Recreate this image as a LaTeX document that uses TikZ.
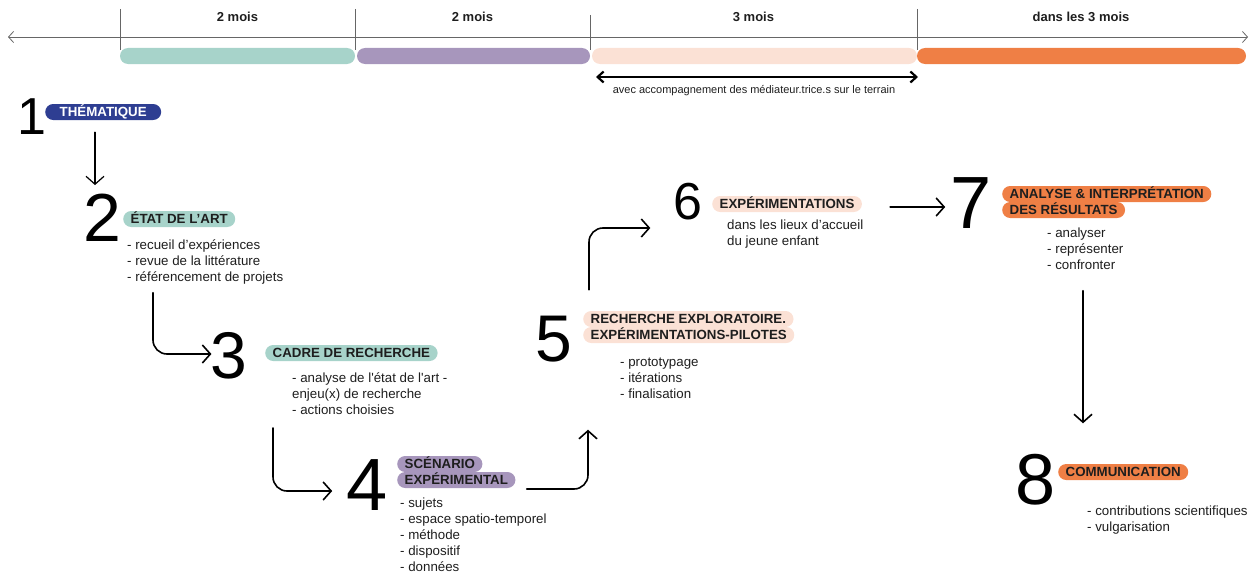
\documentclass[tikz,border=0pt]{standalone}
\usepackage{fontspec}
\setmainfont{Liberation Sans}
\usetikzlibrary{arrows.meta}

\definecolor{thema}{RGB}{46,62,146}
\definecolor{etat}{RGB}{167,211,202}
\definecolor{scenario}{RGB}{167,150,188}
\definecolor{explo}{RGB}{251,225,213}
\definecolor{analyse}{RGB}{239,127,69}
\definecolor{ink}{RGB}{30,30,30}

\begin{document}
\begin{tikzpicture}
        [x=1pt, y=-1pt,
         pill/.style={rounded corners=8pt, inner xsep=7.5pt, inner ysep=0pt, minimum height=16pt,
                      text height=9.5pt, text depth=0pt, anchor=west, text=ink,
                      font=\bfseries\fontsize{13.3}{16}\selectfont},
         digit/.style={inner sep=0pt, font=\fontsize{#1}{#1}\selectfont},
         items/.style={inner sep=0pt, anchor=north west, align=left, text=ink,
                       font=\fontsize{13.3}{16}\selectfont},
         period/.style={inner sep=0pt, text=ink, font=\bfseries\fontsize{13}{16}\selectfont},
         flow/.style={-{Straight Barb[length=8pt, width=18pt]}, line width=1.6pt,
                      rounded corners=14pt, line cap=round, line join=round}]

        \useasboundingbox (0,0) rectangle (1257,578);

        \draw[gray!80!black, line width=0.8pt, {Straight Barb[length=5pt, width=11pt]}-{Straight Barb[length=5pt, width=11pt]}]
            (8,37) -- (1248,37);

        \foreach \x/\t in {120/9, 355/9, 590/15, 917/9}
        \draw[gray!80!black, line width=0.8pt] (\x,\t) -- (\x,50);

        \foreach \x/\l[count=\i] in {237.5/2 mois, 472.5/2 mois, 753.5/3 mois, 1081/dans les 3 mois}
        \node[period] (period-\i) at (\x,17) {\l};

        \foreach \a/\b/\c in {120/355/etat, 357/590/scenario, 592/917/explo, 917/1246/analyse}
        \fill[\c, rounded corners=8pt] (\a,48) rectangle (\b,64);

        \draw[line width=2.2pt, {Straight Barb[length=6pt, width=11pt]}-{Straight Barb[length=6pt, width=11pt]}]
            (596,77) -- (918,77);
        \node[inner sep=0pt, text=ink, font=\fontsize{11}{13}\selectfont] (terrain) at (754,91)
            {avec accompagnement des médiateur.trice.s sur le terrain};

        \foreach \n/\x/\y/\s in {1/32/117/52, 2/102/218/68, 3/229/356/66, 4/367/485/74,
                                 5/554/339/66, 6/688/202/52, 7/971/203/74, 8/1036/480/72}
        \node[digit=\s] (step-\n) at (\x,\y) {\n};

        \node[pill, fill=thema, text=white, minimum width=116pt] (title-1) at (45,112) {THÉMATIQUE};
        \node[pill, fill=etat] (title-2) at (123,219) {ÉTAT DE L’ART};
        \node[pill, fill=etat] (title-3) at (265,353) {CADRE DE RECHERCHE};
        \node[pill, fill=scenario] (title-4a) at (397,464) {SCÉNARIO};
        \node[pill, fill=scenario] (title-4b) at (397,480) {EXPÉRIMENTAL};
        \node[pill, fill=explo] (title-5a) at (583,319) {RECHERCHE EXPLORATOIRE.};
        \node[pill, fill=explo] (title-5b) at (583,335) {EXPÉRIMENTATIONS-PILOTES};
        \node[pill, fill=explo] (title-6) at (712,204) {EXPÉRIMENTATIONS};
        \node[pill, fill=analyse] (title-7a) at (1002,194) {ANALYSE \& INTERPRÉTATION};
        \node[pill, fill=analyse] (title-7b) at (1002,210) {DES RÉSULTATS};
        \node[pill, fill=analyse] (title-8) at (1058,472) {COMMUNICATION};

        \node[items] (list-2) at (127,239.6) {- recueil d’expériences\\- revue de la littérature\\- référencement de projets};
        \node[items] (list-3) at (292,372.6) {- analyse de l\textquotesingle état de l\textquotesingle art -\\enjeu(x) de recherche\\- actions choisies};
        \node[items] (list-4) at (400,497.6) {- sujets\\- espace spatio-temporel\\- méthode\\- dispositif\\- données};
        \node[items] (list-5) at (620,357.6) {- prototypage\\- itérations\\- finalisation};
        \node[items] (list-6) at (727,219.6) {dans les lieux d’accueil\\du jeune enfant};
        \node[items] (list-7) at (1047,227.6) {- analyser\\- représenter\\- confronter};
        \node[items] (list-8) at (1087,505.6) {- contributions scientifiques\\- vulgarisation};

        \draw[flow, line width=1.2pt] ([xshift=-7pt, yshift=-12pt]title-1.south -| step-2.north) -- ([xshift=-7pt, yshift=9pt]step-2.north);
        \draw[flow] ([xshift=26pt, yshift=-8pt]list-2.south west) |- ([xshift=1pt, yshift=2pt]step-3.west);
        \draw[flow] ([xshift=-19pt, yshift=-13pt]list-3.south west) |- ([xshift=-14pt, yshift=-6pt]step-4.west);
        \draw[flow] ([xshift=11pt, yshift=-9pt]title-4b.east) -| ([xshift=5pt, yshift=-31pt]title-5b.west |- list-5.south);
        \draw[flow] ([xshift=6pt, yshift=21pt]title-5a.north west) |- ([xshift=-23pt, yshift=-26pt]step-6.west);
        \draw[flow] ([xshift=28pt, yshift=-3pt]title-6.east) -- ([xshift=-5pt, yshift=-3pt]title-6.east -| step-7.west);
        \draw[flow] ([xshift=36pt, yshift=-21pt]list-7.south west) -- ([xshift=36pt, yshift=31pt]list-7.south west |- step-8.north);
    \end{tikzpicture}
\end{document}
